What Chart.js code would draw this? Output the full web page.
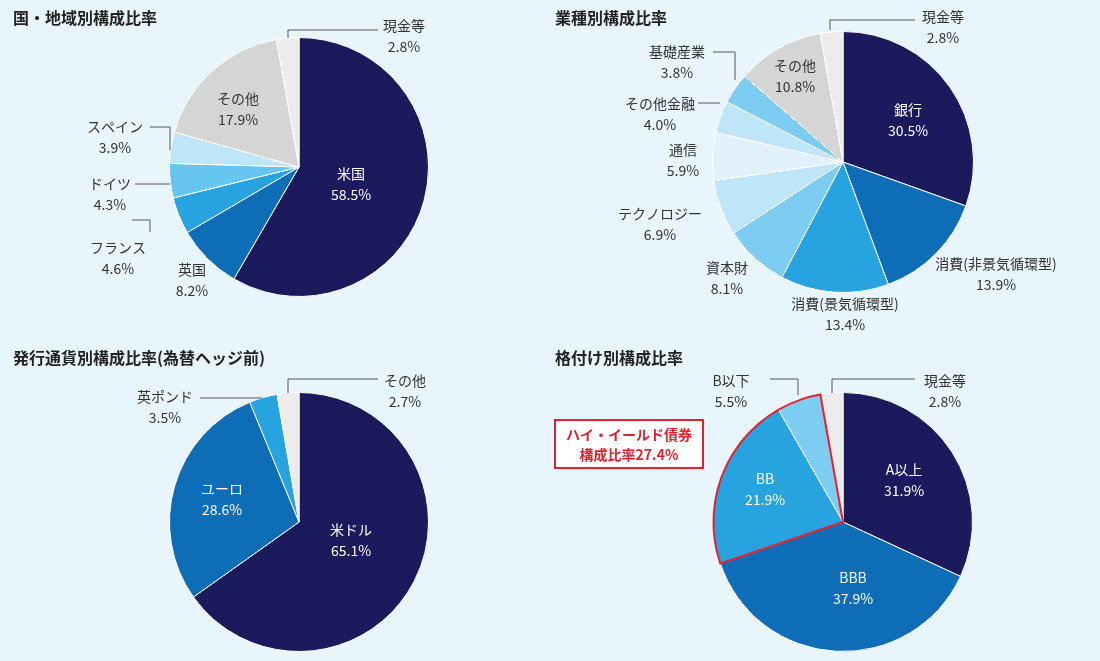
<!DOCTYPE html>
<html><head><meta charset="utf-8">
<script src="https://cdn.jsdelivr.net/npm/chart.js@4"></script>
<style>
html,body{margin:0;padding:0;background:#e9f5fc;}
#wrap{position:relative;width:1100px;height:661px;}
canvas{position:absolute;left:0;top:0;}
</style></head><body>
<div id="wrap">
<canvas id="c1" width="1100" height="661"></canvas>
<canvas id="c2" width="1100" height="661"></canvas>
<canvas id="c3" width="1100" height="661"></canvas>
<canvas id="c4" width="1100" height="661"></canvas>
</div>
<script>
// data
var countryLabels = ["米国", "英国", "フランス", "ドイツ", "スペイン", "その他", "現金等"];
var countryValues = [58.5, 8.2, 4.6, 4.3, 3.9, 17.9, 2.8];
var countryColors = ["#1a1a5c", "#0d6db7", "#27a4e0", "#67c6ef", "#bfe5f9", "#d5d5d5", "#ececec"];

var sectorLabels = ["銀行", "消費(非景気循環型)", "消費(景気循環型)", "資本財", "テクノロジー", "通信", "その他金融", "基礎産業", "その他", "現金等"];
var sectorValues = [30.5, 13.9, 13.4, 8.1, 6.9, 5.9, 4.0, 3.8, 10.8, 2.8];
var sectorColors = ["#1a1a5c", "#0d6db7", "#27a4e0", "#7dcdf2", "#bfe5f9", "#e1f2fc", "#bfe5f9", "#7dcdf2", "#d5d5d5", "#ececec"];

var currencyLabels = ["米ドル", "ユーロ", "英ポンド", "その他"];
var currencyValues = [65.1, 28.6, 3.5, 2.7];
var currencyColors = ["#1a1a5c", "#0d6db7", "#27a4e0", "#ececec"];

var ratingLabels = ["A以上", "BBB", "BB", "B以下", "現金等"];
var ratingValues = [31.9, 37.9, 21.9, 5.5, 2.8];
var ratingColors = ["#1a1a5c", "#0d6db7", "#27a4e0", "#7dcdf2", "#ececec"];

var FONT = '"Noto Sans CJK JP", "Noto Sans", sans-serif';

// text annotations: [lines, x, y, color, leader polyline]
var texts1 = [
	[["米国", "58.5%"], 351, 174, "#fff"],
	[["その他", "17.9%"], 238, 99, "#333"],
	[["現金等", "2.8%"], 404, 26, "#333", [[288, 38], [288, 30], [378, 30]]],
	[["スペイン", "3.9%"], 115, 127, "#333", [[150, 127], [170, 127], [170, 150]]],
	[["ドイツ", "4.3%"], 110, 184, "#333", [[135, 184], [170, 184]]],
	[["フランス", "4.6%"], 118, 248, "#333", [[132, 220], [150, 220], [150, 232]]],
	[["英国", "8.2%"], 192, 270, "#333"]
];
var texts2 = [
	[["銀行", "30.5%"], 908, 110, "#fff"],
	[["その他", "10.8%"], 795, 66, "#333"],
	[["現金等", "2.8%"], 943, 17, "#333", [[830, 30], [830, 20], [915, 20]]],
	[["基礎産業", "3.8%"], 677, 52, "#333", [[713, 52], [735, 52], [735, 80]]],
	[["その他金融", "4.0%"], 660, 104, "#333", [[698, 103], [720, 103]]],
	[["通信", "5.9%"], 683, 150, "#333"],
	[["テクノロジー", "6.9%"], 660, 214, "#333"],
	[["資本財", "8.1%"], 727, 268, "#333"],
	[["消費(景気循環型)", "13.4%"], 845, 304, "#333"],
	[["消費(非景気循環型)", "13.9%"], 996, 264, "#333"]
];
var texts3 = [
	[["米ドル", "65.1%"], 351, 530, "#fff"],
	[["ユーロ", "28.6%"], 222, 489, "#fff"],
	[["英ポンド", "3.5%"], 165, 397, "#333", [[200, 398], [262, 398]]],
	[["その他", "2.7%"], 405, 381, "#333", [[288, 393], [288, 379], [378, 379]]]
];
var texts4 = [
	[["A以上", "31.9%"], 904, 470, "#fff"],
	[["BBB", "37.9%"], 853, 578, "#fff"],
	[["BB", "21.9%"], 765, 479, "#fff"],
	[["B以下", "5.5%"], 731, 381, "#333", [[770, 379], [798, 379], [798, 395]]],
	[["現金等", "2.8%"], 945, 381, "#333", [[832, 393], [832, 379], [915, 379]]]
];

var annot = {
	id: "annot",
	afterDraw: function(chart) {
		var o = chart.options.plugins.annot;
		var ctx = chart.ctx;
		ctx.save();
		ctx.fillStyle = "#222";
		ctx.font = "bold 16px " + FONT;
		ctx.textAlign = "left";
		ctx.textBaseline = "middle";
		ctx.fillText(o.title, o.tx, o.ty);
		// red outline around high-yield slices
		if (o.hy) {
			var meta = chart.getDatasetMeta(0);
			var a = meta.data[o.hy[0]], b = meta.data[o.hy[1]];
			ctx.beginPath();
			ctx.moveTo(a.x, a.y);
			ctx.arc(a.x, a.y, a.outerRadius, a.startAngle, b.endAngle);
			ctx.closePath();
			ctx.strokeStyle = "#e5202e";
			ctx.lineWidth = 2;
			ctx.stroke();
			ctx.fillStyle = "#fff";
			ctx.fillRect(555, 420, 148, 48);
			ctx.strokeRect(555, 420, 148, 48);
			ctx.fillStyle = "#e5202e";
			ctx.font = "bold 14px " + FONT;
			ctx.textAlign = "center";
			ctx.fillText("ハイ・イールド債券", 629, 435);
			ctx.fillText("構成比率27.4%", 629, 455);
		}
		ctx.font = "14px " + FONT;
		ctx.textAlign = "center";
		for (var i = 0; i < o.texts.length; i++) {
			var t = o.texts[i];
			ctx.fillStyle = t[3];
			ctx.fillText(t[0][0], t[1], t[2]);
			ctx.fillText(t[0][1], t[1], t[2] + 21);
			if (t[4]) {
				ctx.beginPath();
				ctx.moveTo(t[4][0][0], t[4][0][1]);
				for (var j = 1; j < t[4].length; j++) ctx.lineTo(t[4][j][0], t[4][j][1]);
				ctx.strokeStyle = "#555";
				ctx.lineWidth = 1;
				ctx.stroke();
			}
		}
		ctx.restore();
	}
};

function makePie(id, labels, values, colors, pad, ann) {
	return new Chart(document.getElementById(id), {
		type: "pie",
		data: { labels: labels, datasets: [{ data: values, backgroundColor: colors, borderColor: "#fff", borderWidth: 1 }] },
		options: {
			responsive: false,
			animation: false,
			events: [],
			layout: { padding: pad },
			plugins: { legend: { display: false }, tooltip: { enabled: false }, annot: ann }
		},
		plugins: [annot]
	});
}

makePie("c1", countryLabels, countryValues, countryColors,
	{ left: 169, right: 671, top: 37, bottom: 364 },
	{ title: "国・地域別構成比率", tx: 13, ty: 18, texts: texts1 });
makePie("c2", sectorLabels, sectorValues, sectorColors,
	{ left: 712, right: 126, top: 31, bottom: 368 },
	{ title: "業種別構成比率", tx: 555, ty: 18, texts: texts2 });
makePie("c3", currencyLabels, currencyValues, currencyColors,
	{ left: 169, right: 671, top: 392, bottom: 9 },
	{ title: "発行通貨別構成比率(為替ヘッジ前)", tx: 13, ty: 358, texts: texts3 });
makePie("c4", ratingLabels, ratingValues, ratingColors,
	{ left: 713, right: 127, top: 392, bottom: 9 },
	{ title: "格付け別構成比率", tx: 555, ty: 358, texts: texts4, hy: [2, 3] });
</script>
</body></html>
